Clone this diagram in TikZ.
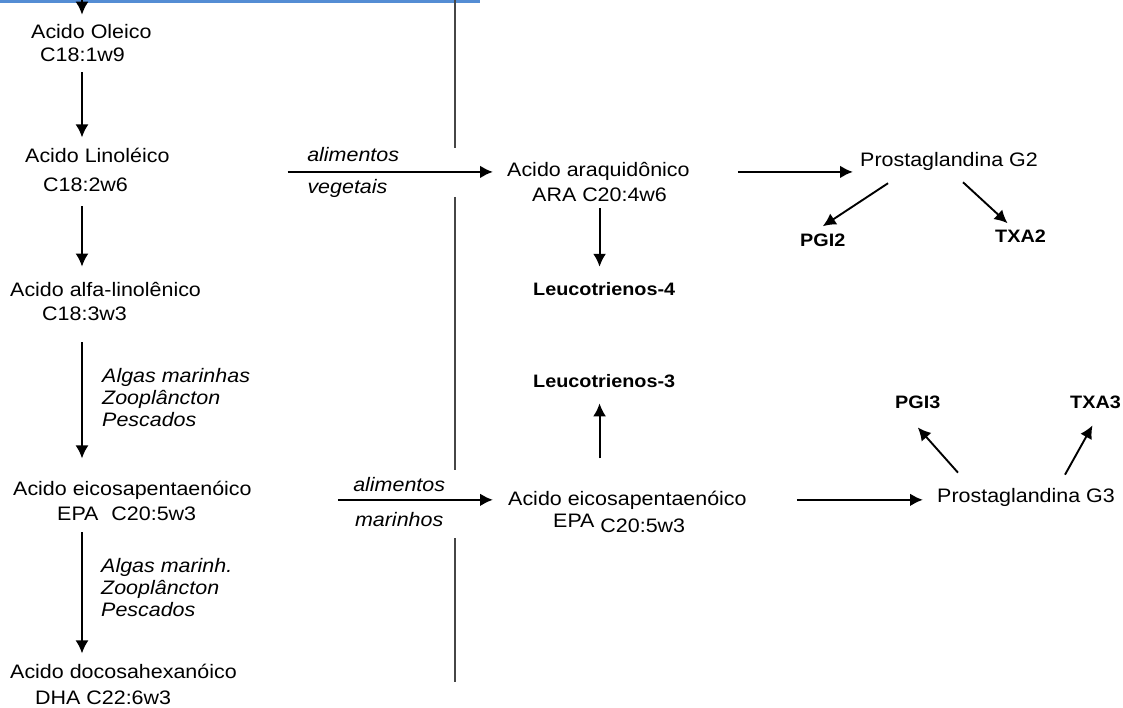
\documentclass[tikz,border=0pt]{standalone}
\usepackage{fontspec}
\setmainfont{Liberation Sans}[FakeStretch=1.1]
\usepackage{tikz}
\usetikzlibrary{arrows.meta}
\usetikzlibrary{positioning}
\usetikzlibrary{calc}
\usepackage{xcolor}
\definecolor{barblue}{RGB}{84,141,212}
\definecolor{divgray}{RGB}{70,70,70}
\tikzset{
  % arrow tip used for every connector
  >={Latex[length=13pt,width=13pt]},
  % Common styles for diagrams
  line/.style={draw, ->, line width=1.9pt},
  hline/.style={draw, ->, line width=2.6pt}
}

\begin{document}
\begin{tikzpicture}[x=1pt, y=-1pt, font=\fontsize{19.5}{23}\selectfont]
    % Define styles
    \tikzstyle{acid} = [anchor=base west, inner sep=0pt]
    \tikzstyle{prod} = [acid, font=\fontsize{18}{21}\selectfont\bfseries]
    \tikzstyle{source} = [anchor=north west, inner sep=0pt, align=left, font=\fontsize{19.5}{22}\selectfont\itshape]
    \tikzstyle{food} = [inner sep=0pt, font=\fontsize{19.5}{22}\selectfont\itshape]
    \tikzstyle{divider} = [divgray, line width=1.3pt]

    \useasboundingbox (0,0) rectangle (1123,708);
    \fill[barblue] (0,0) rectangle (480,3);
    \draw[divider] (455,0) -- (455,148);
    \draw[divider] (455,197) -- (455,470);
    \draw[divider] (455,538) -- (455,682);

    % Place nodes
    \coordinate (entry) at (82,0);
    \node [acid] (oleico) at (31,39) {Acido Oleico};
    \node [acid] (oleicoF) at (40,62) {C18:1w9};
    \node [acid] (linoleico) at (25,163) {Acido Linoléico};
    \node [acid] (linoleicoF) at (43,192) {C18:2w6};
    \node [acid] (alfa) at (10,296) {Acido alfa-linolênico};
    \node [acid] (alfaF) at (42,320) {C18:3w3};
    \node [acid] (epaL) at (13,495) {Acido eicosapentaenóico};
    \node [acid] (epaLF) at (57,520) {EPA\hspace{7pt} C20:5w3};
    \node [acid] (dha) at (10,678) {Acido docosahexanóico};
    \node [acid] (dhaF) at (35,704) {DHA C22:6w3};
    \node [source] (srcA) at (102,368) {Algas marinhas\\Zooplâncton\\Pescados};
    \node [source] (srcB) at (101,558) {Algas marinh.\\Zooplâncton\\Pescados};

    \node [acid] (ara) at (507,177) {Acido araquidônico};
    \node [acid] (araF) at (532,202) {ARA C20:4w6};
    \node [prod] (leu4) at (533,295) {Leucotrienos-4};
    \node [prod] (leu3) at (533,387) {Leucotrienos-3};
    \node [acid] (epaR) at (508,505) {Acido eicosapentaenóico};
    \node [acid] (epaRF) at (553,527) {EPA \raisebox{-5pt}{C20:5w3}};

    \node [acid] (pg2) at (860,167) {Prostaglandina G2};
    \node [prod] (pgi2) at (800,247) {PGI2};
    \node [prod] (txa2) at (995,243) {TXA2};
    \node [acid] (pg3) at (937,502) {Prostaglandina G3};
    \node [prod] (pgi3) at (895,408) {PGI3};
    \node [prod] (txa3) at (1070,408) {TXA3};

    % Draw edges
    \path [line, shorten >=10pt] (entry) -- (oleico.north -| entry);
    \path [line, shorten <=10pt, shorten >=11pt] (oleicoF.south -| entry) -- (linoleico.north -| entry);
    \path [line, shorten <=14pt, shorten >=15pt] (linoleicoF.south -| entry) -- (alfa.north -| entry);
    \path [line, shorten <=22pt, shorten >=22pt] (alfaF.south -| entry) -- (epaL.north -| entry);
    \path [line, shorten <=12pt, shorten >=10pt] (epaLF.south -| entry) -- (dha.north -| entry);

    \path [hline, shorten <=118pt, shorten >=14pt] (linoleico.east |- ara.west) -- (ara.west)
        node [food, above=9pt, pos=.544] {alimentos}
        node [food, below=6pt, pos=.527] {vegetais};
    \path [hline, shorten <=86pt, shorten >=15pt] (epaL.east |- epaR.west) -- (epaR.west)
        node [food, above=7pt, pos=.575] {alimentos}
        node [food, below=11pt, pos=.575] {marinhos};

    \path [line, shorten <=6pt, shorten >=15pt] (araF.south) -- (araF.south |- leu4.north);
    \path [line, shorten <=32pt, shorten >=16pt] (epaR.north -| araF.south) -- (leu3.south -| araF.south);

    \path [hline, shorten <=48pt, shorten >=7pt] (ara.east) -- (ara.east -| pg2.west);
    \path [hline, shorten <=50pt, shorten >=14pt] (epaR.east) -- (epaR.east -| pg3.west);

    \path [line] ([xshift=28pt,yshift=-12pt]pg2.south west) -- ([yshift=8pt]pgi2.north);
    \path [line] ([xshift=103pt,yshift=-11pt]pg2.south west) -- ([xshift=-13pt,yshift=7pt]txa2.north);
    \path [line] ([xshift=21pt,yshift=15pt]pg3.north west) -- ([yshift=-19pt]pgi3.south);
    \path [line] ([xshift=128pt,yshift=13pt]pg3.north west) -- ([xshift=-3pt,yshift=-17pt]txa3.south);

\end{tikzpicture}
\end{document}
